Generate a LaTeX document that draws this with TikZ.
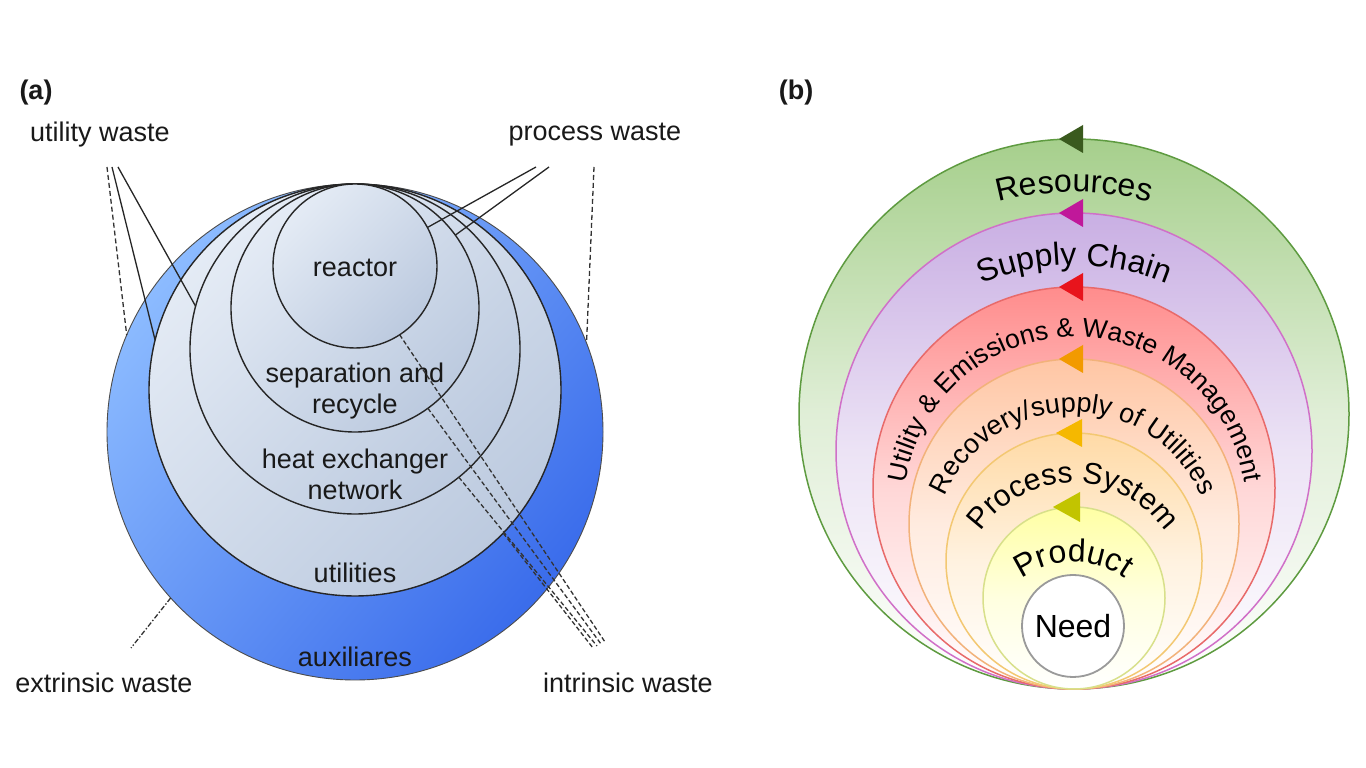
\documentclass[tikz,border=0pt]{standalone}
\usepackage{fontspec}
\setmainfont{Liberation Sans}
\usetikzlibrary{decorations.text}
\definecolor{blueL}{HTML}{8CBBFF}
\definecolor{blueD}{HTML}{3A6CEB}
\definecolor{grayL}{HTML}{E4EBF5}
\definecolor{grayD}{HTML}{BCCADF}
\definecolor{gFill}{HTML}{A6CF8C}\definecolor{gLine}{HTML}{5E9B40}\definecolor{gArr}{HTML}{3A5A1E}
\definecolor{pFill}{HTML}{C9AFE3}\definecolor{pLine}{HTML}{D070C8}\definecolor{pArr}{HTML}{C0189A}
\definecolor{rFill}{HTML}{FF8C8C}\definecolor{rLine}{HTML}{E86A6A}\definecolor{rArr}{HTML}{E8141C}
\definecolor{oFill}{HTML}{FFC6A4}\definecolor{oLine}{HTML}{F2B27A}\definecolor{oArr}{HTML}{F29A00}
\definecolor{sFill}{HTML}{FFDAA6}\definecolor{sLine}{HTML}{F3C872}\definecolor{sArr}{HTML}{F5B800}
\definecolor{yFill}{HTML}{FFFFA4}\definecolor{yLine}{HTML}{D8E08A}\definecolor{yArr}{HTML}{C2C400}
\definecolor{nLine}{HTML}{9A9A9A}
\newcommand\fzRes{\fontsize{32}{36}\selectfont}
\newcommand\fzUt{\fontsize{26.5}{30}\selectfont}
\newcommand\fzRec{\fontsize{27}{30}\selectfont}
\newcommand\fzPS{\fontsize{30}{34}\selectfont}
\begin{document}
\begin{tikzpicture}[x=1pt,y=1pt,
  lbl/.style={font=\fontsize{27}{31}\selectfont, text=black!90, inner sep=0pt},
  ring/.style={circle, inner sep=0pt, outer sep=0pt},
  bluering/.style={ring, draw=black!70, line width=0.9pt, top color=blueL, bottom color=blueD, shading angle=50},
  inring/.style={ring, draw=black!85, line width=1.4pt, top color=grayL, bottom color=grayD, shading angle=45},
  cring/.style args={#1/#2}{ring, draw=#2, line width=1.5pt, top color=#1, bottom color=white, middle color=#1!35},
  wline/.style={black!85, line width=1.3pt},
  wdash/.style={black!80, line width=1.3pt, dash pattern=on 5pt off 3pt},
  idash/.style={black!80, line width=1.3pt, dash pattern=on 4.5pt off 2.5pt},
  arctext/.style={decorate, decoration={text along path, text align=center, text={#1}}}
]
\useasboundingbox (0,0) rectangle (1366,768);
\fill[white] (0,0) rectangle (1366,768);

% ---------- (a) ----------
\node[bluering, minimum size=496] (aux) at (355,336) {};
\node[inring, minimum size=412] (util) at (355,378) {};
\node[inring, minimum size=330] (hx) at (355,419) {};
\node[inring, minimum size=248] (sep) at (355,460) {};
\node[inring, minimum size=164] (reac) at (355,502) {};

\node[lbl, font=\fontsize{27}{31}\selectfont\bfseries] (la) at (36,675) {(a)};
\node[lbl] (tuw) at (100,633) {utility waste};
\node[lbl] (tpw) at (595,633) {process waste};
\node[lbl] (tew) at (104,85) {extrinsic waste};
\node[lbl] (tiw) at (628,85) {intrinsic waste};
\node[lbl] (tr) at (355,500) {reactor};
\node[lbl, align=center] (ts) at (355,377) {separation and\\recycle};
\node[lbl, align=center] (th) at (355,294) {heat exchanger\\network};
\node[lbl] (tu) at (355,195) {utilities};
\node[lbl] (ta) at (355,111) {auxiliares};

\coordinate (uw1) at (107,601);
\coordinate (uw2) at (112,601);
\coordinate (uw3) at (118,601);
\coordinate (pw1) at (536,601);
\coordinate (pw2) at (549,601);
\coordinate (dwr) at (594,601);
\coordinate (ewe) at (131,120);
\coordinate (iw1) at (605,126);
\coordinate (iw2) at (601,124);
\coordinate (iw3) at (597,122);
\coordinate (iw4) at (593,120);

\draw[wdash] (uw1) -- (aux.157.3);
\draw[wline] (uw2) -- (util.166.8);
\draw[wline] (uw3) -- (hx.165);
\draw[wdash] (dwr) -- (aux.21.8);
\draw[wline] (pw1) -- (reac.28.4);
\draw[wline] (pw2) -- (sep.36.5);
\draw[black!80, line width=1.3pt, dash pattern=on 5pt off 2pt on 1.5pt off 2pt] (aux.222.3) -- (ewe);
\draw[idash] (reac.303.5) -- (iw1);
\draw[idash] (sep.306.9) -- (iw2);
\draw[idash] (hx.309.9) -- (iw3);
\draw[idash] (util.316.4) -- (iw4);

% ---------- (b) ----------
\node[lbl, font=\fontsize{27}{31}\selectfont\bfseries] (lb) at (796,675) {(b)};
\node[cring=gFill/gLine, minimum size=550] (res) at (1074,354) {};
\node[cring=pFill/pLine, minimum size=476] (sup) at (1074,317) {};
\node[cring=rFill/rLine, minimum size=402] (uem) at (1074,280) {};
\node[cring=oFill/oLine, minimum size=330] (rec) at (1074,244) {};
\node[cring=sFill/sLine, minimum size=256] (pro) at (1074,207) {};
\node[cring=yFill/yLine, minimum size=182] (prd) at (1074,170) {};
\node[ring, draw=nLine, line width=1.8pt, fill=white, minimum size=102, font=\fontsize{32}{36}\selectfont] (need) at (1073,142) {Need};

\fill[gArr] (res.north) ++(9,14) -- ++(0,-28) -- ++(-24,14) -- cycle;
\fill[pArr] (sup.north) ++(9,14) -- ++(0,-28) -- ++(-24,14) -- cycle;
\fill[rArr] (uem.north) ++(9,14) -- ++(0,-28) -- ++(-24,14) -- cycle;
\fill[oArr] (rec.north) ++(9,14) -- ++(0,-28) -- ++(-24,14) -- cycle;
\fill[sArr] (pro.north) ++(8,14) -- ++(0,-28) -- ++(-26,14) -- cycle;
\fill[yArr] (prd.north) ++(6,15) -- ++(0,-30) -- ++(-27,15) -- cycle;

\path[arctext={|\fzRes|Resources}] (1074,286) ++(115:290) arc[start angle=115, end angle=65, radius=290];
\path[arctext={|\fzRes|Supply Chain}] (1074,263) ++(125:240) arc[start angle=125, end angle=55, radius=240];
\path[arctext={|\fzUt|Utility {\&} Emissions {\&} Waste Management}] (1075,260) ++(188:171) arc[start angle=188, end angle=-8, radius=171];
\path[arctext={|\fzRec|Recovery/supply of Utilities}] (1073,217) ++(172:139) arc[start angle=172, end angle=8, radius=139];
\path[arctext={|\fzPS|Process System}] (1073,173) ++(165:112) arc[start angle=165, end angle=15, radius=112];
\path[arctext={|\fzRes|Product}] (1073,118) ++(145:88) arc[start angle=145, end angle=35, radius=88];
\end{tikzpicture}
\end{document}
